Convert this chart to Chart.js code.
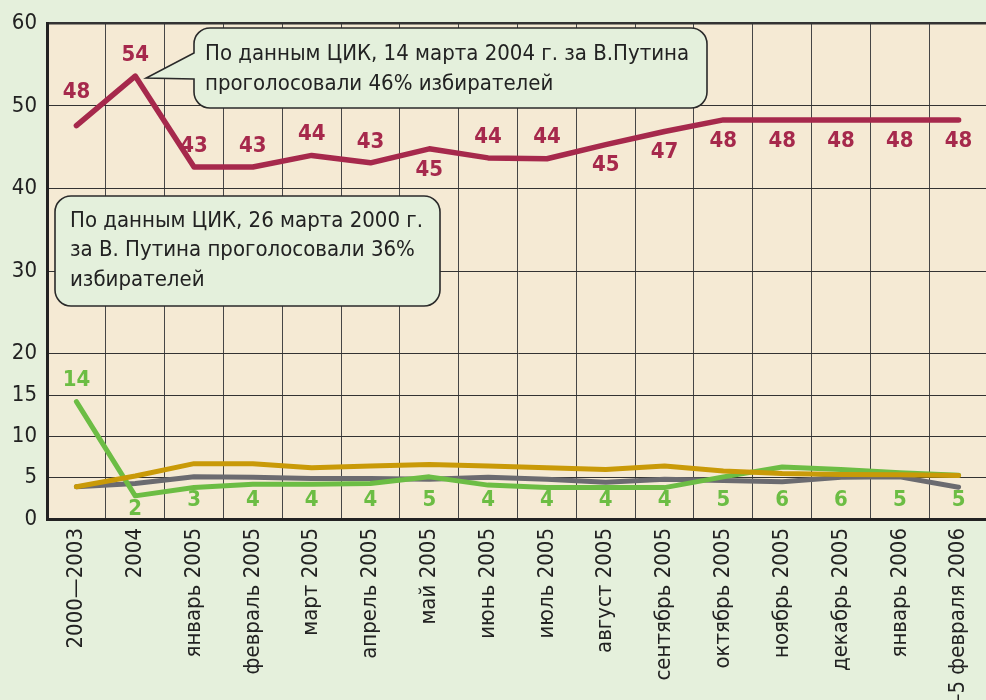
<!DOCTYPE html>
<html lang="ru">
<head>
<meta charset="utf-8">
<title>Рейтинг</title>
<script src="https://cdn.jsdelivr.net/npm/chart.js@4.4.0/dist/chart.umd.min.js"></script>
<style>
  html,body{margin:0;padding:0;background:#e5f0dc;overflow:hidden;}
  #chart{display:block;}
</style>
</head>
<body>
<canvas id="chart" width="994" height="700"></canvas>
<script>
// data
const categories = ['2000—2003','2004','январь 2005','февраль 2005','март 2005','апрель 2005','май 2005','июнь 2005','июль 2005','август 2005','сентябрь 2005','октябрь 2005','ноябрь 2005','декабрь 2005','январь 2006','4—5 февраля 2006'];
const putinValues = [47.6, 53.6, 42.6, 42.6, 44.0, 43.1, 44.8, 43.7, 43.6, 45.3, 46.9, 48.3, 48.3, 48.3, 48.3, 48.3];
const putinLabels = [48, 54, 43, 43, 44, 43, 45, 44, 44, 45, 47, 48, 48, 48, 48, 48];
const greenValues = [14.2, 2.8, 3.8, 4.2, 4.2, 4.3, 5.1, 4.1, 3.8, 3.8, 3.8, 5.1, 6.3, 6.0, 5.6, 5.3];
const greenLabels = [14, 2, 3, 4, 4, 4, 5, 4, 4, 4, 4, 5, 6, 6, 5, 5];
const goldValues = [3.9, 5.2, 6.7, 6.7, 6.2, 6.4, 6.6, 6.4, 6.2, 6.0, 6.4, 5.8, 5.5, 5.4, 5.35, 5.25];
const grayValues = [3.9, 4.3, 5.1, 5.05, 4.9, 4.9, 4.8, 5.05, 4.8, 4.45, 4.8, 4.65, 4.5, 5.05, 5.1, 3.85];
const yTicks = [0, 5, 10, 15, 20, 30, 40, 50, 60];

const note2004 = ['По данным ЦИК, 14 марта 2004 г. за В.Путина', 'проголосовали 46% избирателей'];
const note2000 = ['По данным ЦИК, 26 марта 2000 г.', 'за В. Путина проголосовали 36%', 'избирателей'];

const FONT = "'Liberation Sans Narrow', 'Arial Narrow', 'DejaVu Sans Condensed', sans-serif";
const RED = '#a6294c', GREEN = '#6cbd44', GOLD = '#c99a08', GRAY = '#6b6b70';
// above / below the line for the red labels
const redSide = [-1,-1,-1,-1,-1,-1,1,-1,-1,1,1,1,1,1,1,1];

const background = {
  id:'background',
  beforeDraw(chart){
    const {ctx, chartArea:a} = chart;
    ctx.save();
    ctx.fillStyle = '#e5f0dc';
    ctx.fillRect(0,0,chart.width,chart.height);
    ctx.fillStyle = '#f5ead4';
    ctx.fillRect(a.left,a.top,a.right-a.left,a.bottom-a.top);
    ctx.restore();
  }
};

function bubble(ctx, x, y, w, h, r, ptr){
  ctx.beginPath();
  ctx.moveTo(x+r, y);
  ctx.lineTo(x+w-r, y);
  ctx.arcTo(x+w, y, x+w, y+r, r);
  ctx.lineTo(x+w, y+h-r);
  ctx.arcTo(x+w, y+h, x+w-r, y+h, r);
  ctx.lineTo(x+r, y+h);
  ctx.arcTo(x, y+h, x, y+h-r, r);
  if(ptr){ ctx.lineTo(x, ptr.y2); ctx.lineTo(ptr.tx, ptr.ty); ctx.lineTo(x, ptr.y1); }
  ctx.lineTo(x, y+r);
  ctx.arcTo(x, y, x+r, y, r);
  ctx.closePath();
  ctx.fillStyle = '#e4f0dc'; ctx.fill();
  ctx.lineWidth = 1.6; ctx.strokeStyle = '#2a2a2a'; ctx.stroke();
}

const labelsAndNotes = {
  id:'labelsAndNotes',
  afterDatasetsDraw(chart){
    const {ctx} = chart;
    const y = chart.scales.y;
    ctx.save();
    ctx.font = 'bold 22px ' + FONT;
    ctx.textAlign = 'center'; ctx.textBaseline = 'middle';
    // red labels
    const red = chart.getDatasetMeta(0).data;
    ctx.fillStyle = RED;
    red.forEach((p,i)=>{
      const off = redSide[i] < 0 ? (i===0 ? -33 : -21) : 21;
      ctx.fillText(String(putinLabels[i]), p.x, p.y + off);
    });
    // green labels
    const green = chart.getDatasetMeta(2).data;
    ctx.fillStyle = GREEN;
    green.forEach((p,i)=>{
      let ty = y.getPixelForValue(0) - 19;
      if(greenValues[i] > 10) ty = p.y - 21;
      else ty = Math.max(ty, p.y + 13);
      ctx.fillText(String(greenLabels[i]), p.x, ty);
    });

    // notes
    const tip = red[1];
    bubble(ctx, 194, 28, 513, 80, 16, {y1:53, y2:79, tx:tip.x+11, ty:tip.y+2});
    bubble(ctx, 55, 196, 385, 110, 16, null);
    ctx.font = '22px ' + FONT;
    ctx.fillStyle = '#222';
    ctx.textAlign = 'left';
    note2004.forEach((t,i)=> ctx.fillText(t, 205, 54 + i*30));
    note2000.forEach((t,i)=> ctx.fillText(t, 70, 221 + i*29.5));
    ctx.restore();
  }
};

const line = (data, color, w) => ({
  data, borderColor: color, borderWidth: w, pointRadius: 0,
  borderCapStyle:'round', borderJoinStyle:'round', tension: 0, fill: false
});

new Chart(document.getElementById('chart'), {
  type:'line',
  data:{
    labels: categories,
    datasets:[
      line(putinValues, RED, 5.5),
      line(goldValues, GOLD, 5),
      line(greenValues, GREEN, 5),
      line(grayValues, GRAY, 5)
    ]
  },
  options:{
    responsive:false,
    animation:false,
    layout:{ padding:{ top:15, left:0, right:0, bottom:0 } },
    plugins:{ legend:{display:false}, tooltip:{enabled:false} },
    scales:{
      x:{
        offset:true,
        afterFit(s){ s.height = 181; },
        grid:{ offset:true, color:'#464646', lineWidth:1, drawTicks:false },
        border:{ display:true, width:3, color:'#222' },
        ticks:{ minRotation:90, maxRotation:90, autoSkip:false, padding:9, color:'#222', font:{ family:FONT, size:22 } }
      },
      y:{
        min:0, max:60,
        afterFit(s){ s.width = 47; },
        afterBuildTicks(s){ s.ticks = yTicks.map(v=>({value:v})); },
        grid:{ color:'#333', lineWidth:(c)=> c.tick && c.tick.value===60 ? 2.5 : 1, drawTicks:false },
        border:{ display:true, width:3, color:'#222' },
        ticks:{ padding:10, color:'#222', font:{ family:FONT, size:22 } }
      }
    }
  },
  plugins:[background, labelsAndNotes]
});
</script>
</body>
</html>
